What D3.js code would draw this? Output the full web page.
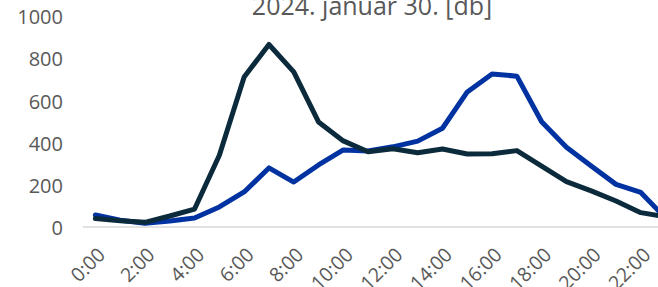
<!DOCTYPE html>
<html>
<head>
<meta charset="utf-8">
<script src="https://cdn.jsdelivr.net/npm/d3@7"></script>
<style>
html,body{margin:0;padding:0;background:#fff;overflow:hidden;}
svg{display:block;font-family:"Open Sans","Noto Sans",sans-serif;}
</style>
</head>
<body>
<svg id="chart" width="658" height="287"></svg>
<script>
const title = "2024. január 30. [db]";
const hours = ["0:00","1:00","2:00","3:00","4:00","5:00","6:00","7:00","8:00","9:00","10:00","11:00",
               "12:00","13:00","14:00","15:00","16:00","17:00","18:00","19:00","20:00","21:00","22:00","23:00"];
const blueValues = [57,32,18,28,43,95,166,280,213,294,365,360,380,407,468,640,725,715,499,378,289,202,164,42];
const darkValues = [40,30,22,52,85,340,711,865,735,498,408,357,371,352,370,346,347,362,289,215,171,123,68,48];
const yTicks = [0,200,400,600,800,1000];
const xLabels = hours.filter((h,i)=>i%2===0);

const svg = d3.select("#chart");
const x = d3.scaleBand().domain(hours).range([83, 678]).padding(0);
const y = d3.scaleLinear().domain([0,1000]).range([227, 16]);
const cx = h => x(h) + x.bandwidth()/2;

// baseline
svg.append("line")
  .attr("x1", x.range()[0]).attr("x2", x.range()[1])
  .attr("y1", y(0)).attr("y2", y(0))
  .attr("stroke", "#d9d9d9").attr("stroke-width", 1.5);

// y axis labels
const yAxis = d3.axisLeft(y).tickValues(yTicks).tickSize(0).tickPadding(0).tickFormat(d3.format("d"));
const ya = svg.append("g").attr("transform", "translate(63,0)").call(yAxis);
ya.select(".domain").remove();
ya.selectAll("text").attr("fill", "#595959").attr("font-size", 20).attr("font-family", "Open Sans").attr("dy","0.38em");

// x axis labels
const xAxis = d3.axisBottom(x).tickValues(xLabels).tickSize(0).tickPadding(0);
const xa = svg.append("g").call(xAxis);
xa.select(".domain").remove();
xa.selectAll(".tick").attr("transform", d => `translate(${cx(d)+11},256)`);
xa.selectAll("text")
  .attr("fill", "#595959").attr("font-size", 19.5).attr("font-family", "Open Sans")
  .attr("y", 0).attr("dy", 0)
  .attr("text-anchor", "end")
  .attr("transform", "rotate(-45)");

// lines
const line = vals => d3.line().x((d,i)=>cx(hours[i])).y(d=>y(d))(vals);
svg.append("path").attr("d", line(blueValues)).attr("fill","none")
  .attr("stroke","#0033a1").attr("stroke-width",5).attr("stroke-linejoin","round").attr("stroke-linecap","round");
svg.append("path").attr("d", line(darkValues)).attr("fill","none")
  .attr("stroke","#0b2a3b").attr("stroke-width",5).attr("stroke-linejoin","round").attr("stroke-linecap","round");

// title
svg.append("text").attr("x", 372).attr("y", 15).attr("text-anchor","middle")
  .attr("fill","#595959").attr("font-size", 25).attr("font-family","Open Sans").text(title);
</script>
</body>
</html>
